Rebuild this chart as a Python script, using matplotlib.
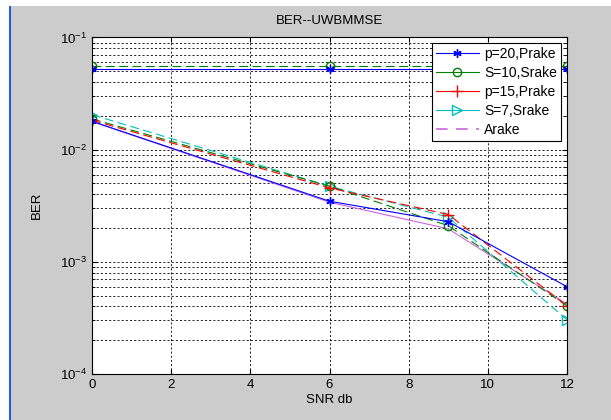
import matplotlib
matplotlib.use("Agg")
import matplotlib.pyplot as plt
from matplotlib.lines import Line2D
from matplotlib.patches import Rectangle

# Data
snr = [0, 6, 9, 12]
ber_p20_prake = [0.0179, 0.00347, 0.00228, 0.00060]
ber_s10_srake = [0.0188, 0.00472, 0.00210, 0.000405]
ber_p15_prake = [0.0183, 0.00456, 0.00264, 0.000405]
ber_s7_srake = [0.0205, 0.00472, 0.00250, 0.000304]
ber_arake = [0.0178, 0.00340, 0.00197, 0.00042]

# flat lines along the top of the plot
flat_p20 = [0.0521, 0.0521, 0.0521, 0.0521]
flat_s10 = [0.0561, 0.0561, 0.0561, 0.0561]
flat_arake = [0.0521, 0.0521, 0.0521, 0.0521]

labels = ["p=20,Prake", "S=10,Srake", "p=15,Prake", "S=7,Srake", "Arake"]

plt.rcParams['font.family'] = ['Liberation Sans', 'DejaVu Sans']

blue = (0, 0, 1)
green = (0, 0.5, 0)
red = (1, 0, 0)
cyan = (0, 0.75, 0.75)
magenta = '#cc66dd'
dash = (0, (8, 4))
star = (6, 2, 0)

fig = plt.figure(figsize=(6.11, 4.20), dpi=100, facecolor='#cccccc')

# screenshot border: white strip plus blue window edge
fig.patches.append(Rectangle((0, 0), 9 / 611, 1, transform=fig.transFigure,
                             facecolor='white', edgecolor='none', zorder=-2))
fig.patches.append(Rectangle((0, 1 - 6 / 420), 1, 6 / 420, transform=fig.transFigure,
                             facecolor='white', edgecolor='none', zorder=-2))
fig.patches.append(Rectangle((9 / 611, 0), 2 / 611, 1 - 6 / 420, transform=fig.transFigure,
                             facecolor='#1a5fe0', edgecolor='none', zorder=-1))

ax = fig.add_axes([92 / 611, 1 - 374 / 420, (567 - 92) / 611, (374 - 37.5) / 420])
ax.set_facecolor('white')

lw = 0.8
ax.semilogy(snr, flat_arake, color=magenta, lw=lw, linestyle=dash)
ax.semilogy(snr, flat_s10, color=green, lw=lw, linestyle=dash,
            marker='o', mfc='none', ms=6)
ax.semilogy(snr, flat_p20, color=blue, lw=lw, marker=star, ms=6)

ax.semilogy(snr, ber_arake, color=magenta, lw=lw)
ax.semilogy(snr, ber_s7_srake, color=cyan, lw=lw, linestyle=dash,
            marker='>', mfc='none', ms=7)
ax.semilogy(snr, ber_s10_srake, color=green, lw=lw, linestyle=dash,
            marker='o', mfc='none', ms=6)
ax.semilogy(snr, ber_p15_prake, color=red, lw=lw, linestyle=dash,
            marker='+', ms=8)
ax.semilogy(snr, ber_p20_prake, color=blue, lw=lw, marker=star, ms=6)

ax.set_xlim(0, 12)
ax.set_ylim(1e-4, 1e-1)
ax.set_xticks(range(0, 13, 2))

ax.grid(True, which='both', color='black', linestyle=(0, (2.5, 2.5)), linewidth=0.6)
ax.tick_params(direction='in', top=True, right=True, which='both', labelsize=9.5)
for s in ax.spines.values():
    s.set_linewidth(0.8)

ax.set_title("BER--UWBMMSE", fontsize=9.5, pad=10)
ax.set_xlabel("SNR db", fontsize=9.5, labelpad=2)
ax.set_ylabel("BER", fontsize=9.5, labelpad=12)

# legend entries drawn with solid lines as in the reference
handles = [
    Line2D([], [], color=blue, lw=lw, marker=star, ms=6),
    Line2D([], [], color=green, lw=lw, marker='o', mfc='none', ms=6),
    Line2D([], [], color=red, lw=lw, marker='+', ms=8),
    Line2D([], [], color=cyan, lw=lw, marker='>', mfc='none', ms=7),
    Line2D([], [], color=magenta, lw=1.2, linestyle=(0, (7, 5))),
]
leg = ax.legend(handles, labels, loc='upper right', fontsize=10, fancybox=False,
                framealpha=1, edgecolor='black', handlelength=3.1,
                borderaxespad=0.4, labelspacing=0.35, handletextpad=0.4,
                borderpad=0.3)
leg.get_frame().set_linewidth(0.8)

fig.savefig("out.png", dpi=100, facecolor=fig.get_facecolor())
